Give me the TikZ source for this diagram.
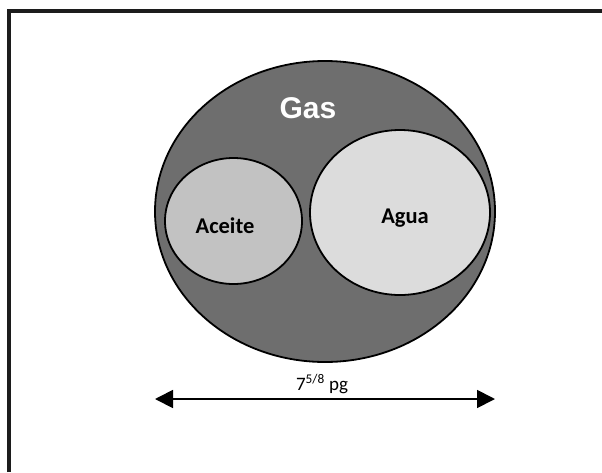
\documentclass[tikz,border=0pt]{standalone}
\usepackage{fontspec}
\setmainfont{Carlito}
\newfontfamily\gasfont{Liberation Sans}
\usetikzlibrary{shapes.geometric,arrows.meta}
\definecolor{gasgray}{HTML}{6E6E6E}
\definecolor{oilgray}{HTML}{C2C2C2}
\definecolor{watergray}{HTML}{DCDCDC}
\definecolor{framec}{HTML}{1C1C1C}
\tikzset{
  blob/.style={ellipse, draw=black, line width=1.8pt, inner sep=0pt},
  lbl/.style={inner sep=0pt, font=\bfseries\fontsize{22.5}{26}\selectfont},
}
\begin{document}
\begin{tikzpicture}[x=1pt,y=-1pt]
\useasboundingbox (0,0) rectangle (602,472);
\fill[white] (0,0) rectangle (602,472);
% frame (top and left only)
\draw[framec, line width=3.5pt] (9,472) -- (9,11) -- (602,11);
% outer gas ellipse
\node[blob, fill=gasgray, minimum width=340pt, minimum height=301pt] (gas) at (325,211.5) {};
\node[blob, fill=oilgray, minimum width=137pt, minimum height=126pt] (oil) at (233.5,221) {};
\node[blob, fill=watergray, minimum width=180pt, minimum height=165pt] (water) at (400,212.5) {};
\node[inner sep=0pt, text=white, font=\gasfont\bfseries\fontsize{30}{34}\selectfont] (gaslbl) at (308,108) {Gas};
\node[lbl] (oillbl) at (225,226) {Aceite};
\node[lbl] (waterlbl) at (405,218) {Agua};
% dimension arrow
\coordinate (L) at (155,399);
\coordinate (R) at (495,399);
\draw[line width=1.8pt, {Triangle[length=18pt,width=18pt]}-{Triangle[length=18pt,width=18pt]}] (L) -- (R);
\node[inner sep=0pt, font=\fontsize{19}{22}\selectfont] (dim) at (322,384) {7\textsuperscript{5/8} pg};
\end{tikzpicture}
\end{document}
